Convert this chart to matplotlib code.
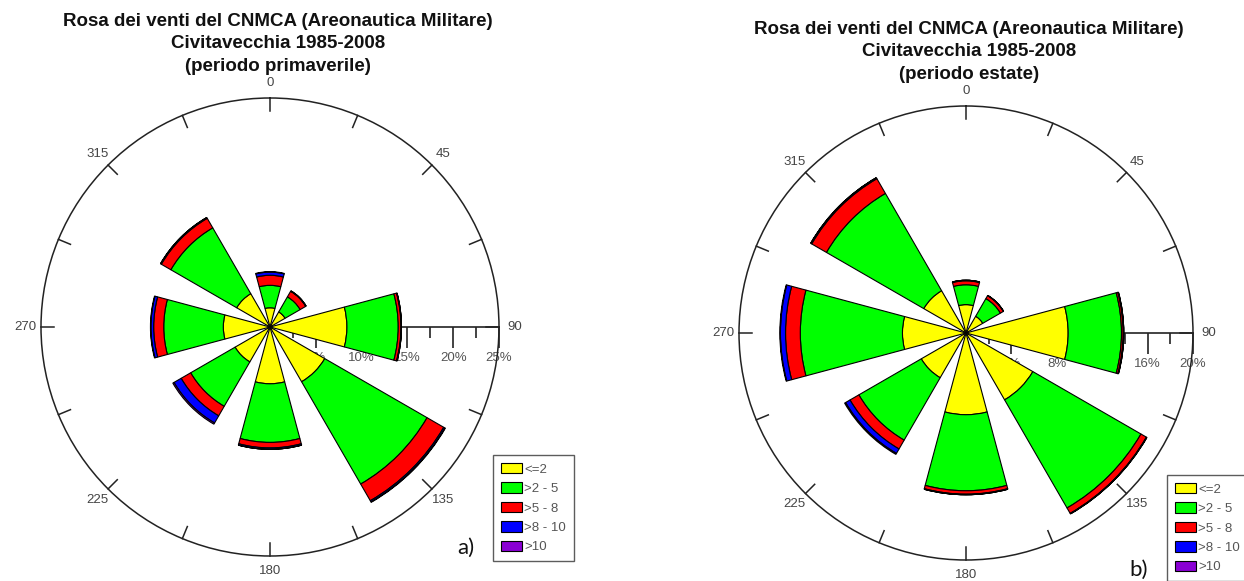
import numpy as np
import matplotlib
matplotlib.use('Agg')
import matplotlib.pyplot as plt

plt.rcParams['font.family'] = ['Liberation Sans', 'DejaVu Sans']

# directions (degrees) and speed classes (m/s)
direzioni = [0, 45, 90, 135, 180, 225, 270, 315]
classi = ['<=2', '>2 - 5', '>5 - 8', '>8 - 10', '>10']
colori = ['#ffff00', '#00ff00', '#ff0000', '#0000ff', '#8a00d4']

# a) periodo primaverile - frequenze % per classe
prim_c1 = [2.1, 1.9, 8.4, 6.9, 6.2, 4.4, 5.1, 4.2]
prim_c2 = [2.45, 1.9, 5.6, 12.9, 6.4, 5.6, 6.5, 8.3]
prim_c3 = [1.1, 0.7, 0.3, 2.1, 0.6, 1.2, 1.1, 1.2]
prim_c4 = [0.35, 0.05, 0.05, 0.15, 0.15, 0.9, 0.3, 0.1]
prim_c5 = [0.05, 0.0, 0.0, 0.05, 0.0, 0.15, 0.05, 0.0]

# b) periodo estate
est_c1 = [2.5, 1.7, 9.0, 6.8, 7.2, 4.55, 5.6, 4.3]
est_c2 = [1.75, 1.8, 4.7, 11.0, 6.7, 6.35, 9.0, 9.9]
est_c3 = [0.35, 0.3, 0.15, 0.55, 0.3, 0.9, 1.3, 1.5]
est_c4 = [0.05, 0.02, 0.05, 0.05, 0.05, 0.45, 0.45, 0.1]
est_c5 = [0.0, 0.0, 0.0, 0.0, 0.0, 0.1, 0.05, 0.0]

W, H = 1244, 581
fig = plt.figure(figsize=(W / 100, H / 100), dpi=100)


def rosa(cx, cy, R, serie, rmax, passo, titolo, tx, ty, lettera, lx, ly, leg_x, leg_y):
    # radial scale along the 90 direction (drawn below the bars)
    axr = fig.add_axes([cx / W, (H - cy) / H, R / W, 0.0001], zorder=0)
    axr.set_facecolor('none')
    axr.set_xlim(0, rmax)
    axr.set_ylim(0, 1)
    for s in ['left', 'right', 'top']:
        axr.spines[s].set_visible(False)
    axr.spines['bottom'].set_color('#222222')
    axr.spines['bottom'].set_linewidth(1.2)
    axr.set_yticks([])
    maj = np.arange(passo, rmax + 0.01, passo)
    axr.set_xticks(maj, ['%d%%' % v for v in maj])
    axr.set_xticks(np.arange(passo / 2, rmax, passo), minor=True)
    axr.tick_params(axis='x', which='major', direction='out', length=15, width=1.2,
                    color='#222222', labelcolor='#555555', labelsize=9.5, pad=3)
    axr.tick_params(axis='x', which='minor', direction='out', length=8, width=1.2,
                    color='#222222')

    ax = fig.add_axes([(cx - R) / W, (H - cy - R) / H, 2 * R / W, 2 * R / H],
                      projection='polar', zorder=1)
    ax.set_facecolor('none')
    ax.set_theta_zero_location('N')
    ax.set_theta_direction(-1)
    ax.set_ylim(0, rmax)
    ax.grid(False)
    ax.set_yticks([])
    ax.spines['polar'].set_color('#222222')
    ax.spines['polar'].set_linewidth(1.1)

    theta = np.deg2rad(direzioni)
    base = np.zeros(len(direzioni))
    for vals, col, lab in zip(serie, colori, classi):
        ax.bar(theta, vals, width=np.deg2rad(30), bottom=base, color=col,
               edgecolor='black', linewidth=0.8, label=lab)
        base = base + np.array(vals)

    # compass ticks every 22.5 degrees, pointing inward
    angoli = np.arange(0, 360, 22.5)
    for a in np.deg2rad(angoli):
        ax.plot([a, a], [rmax * (1 - 13 / R), rmax], color='#222222', lw=1.1,
                zorder=5, clip_on=False)
    ax.set_xticks(np.deg2rad(angoli),
                  ['%d' % a if a % 45 == 0 else '' for a in angoli])
    ax.tick_params(axis='x', length=0, labelcolor='#444444', labelsize=9.5, pad=4)

    fig.text(tx / W, 1 - ty / H, titolo, ha='center', va='top', fontsize=13.5,
             fontweight='bold', color='#111111', linespacing=1.42)
    fig.text(lx / W, 1 - ly / H, lettera, ha='center', va='center', fontsize=16,
             family=['Lato', 'DejaVu Sans'], color='#111111')

    leg = ax.legend(loc='upper left', bbox_to_anchor=(leg_x / W, 1 - leg_y / H),
                    bbox_transform=fig.transFigure, borderaxespad=0, fontsize=9.5,
                    frameon=True, fancybox=False, edgecolor='#333333',
                    handlelength=1.6, handleheight=0.85, handletextpad=0.15,
                    labelspacing=0.5, borderpad=0.6)
    leg.get_frame().set_linewidth(1.0)
    for t in leg.get_texts():
        t.set_color('#555555')
    return ax


rosa(270, 327, 229, [prim_c1, prim_c2, prim_c3, prim_c4, prim_c5], 25, 5,
     'Rosa dei venti del CNMCA (Areonautica Militare)\nCivitavecchia 1985-2008\n(periodo primaverile)',
     278, 13, 'a)', 466, 548, 493, 455)

rosa(966, 333, 227, [est_c1, est_c2, est_c3, est_c4, est_c5], 20, 4,
     'Rosa dei venti del CNMCA (Areonautica Militare)\nCivitavecchia 1985-2008\n(periodo estate)',
     969, 21, 'b)', 1139, 570, 1167, 475)

fig.savefig('out.png', dpi=100)
